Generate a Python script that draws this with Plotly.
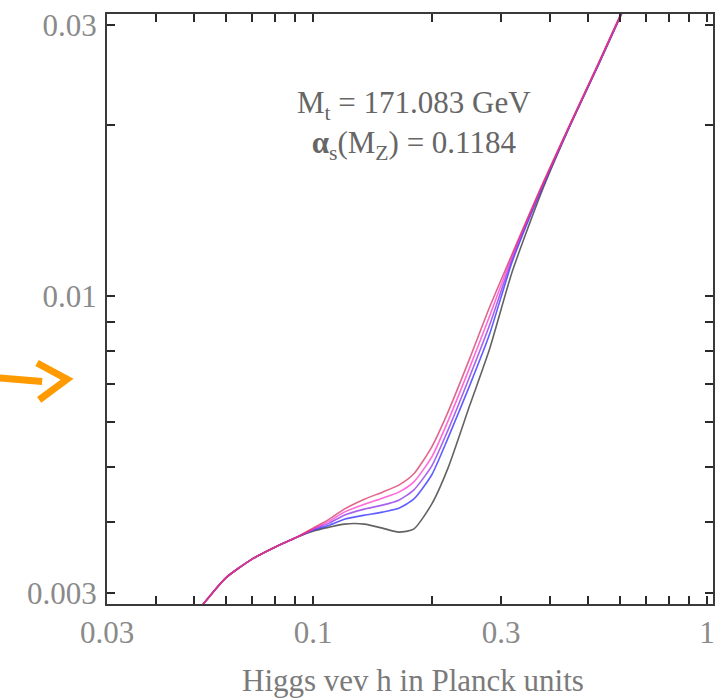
import plotly.graph_objects as go

# Higgs vev h in Planck units (shared by all curves)
h_vals = [0.05, 0.06, 0.07, 0.08, 0.09, 0.10, 0.11, 0.12, 0.135, 0.15, 0.165, 0.18,
          0.20, 0.22, 0.25, 0.28, 0.32, 0.38, 0.45, 0.53, 0.62]

curve_black = [0.002745, 0.003189, 0.003443, 0.003614, 0.003750, 0.003857, 0.003920, 0.003969,
               0.003969, 0.003904, 0.003841, 0.003888, 0.004302, 0.004979, 0.006429, 0.008035,
               0.011023, 0.015240, 0.02001, 0.02551, 0.03240]
curve_blue = [0.002745, 0.003189, 0.003443, 0.003614, 0.003750, 0.003873, 0.003952, 0.004049,
              0.004115, 0.004166, 0.004233, 0.004390, 0.004842, 0.005623, 0.006970, 0.008537,
              0.011478, 0.015429, 0.02005, 0.02558, 0.03252]
curve_violet = [0.002745, 0.003189, 0.003443, 0.003614, 0.003750, 0.003888, 0.003984, 0.004115,
                0.004217, 0.004286, 0.004373, 0.004554, 0.005020, 0.005809, 0.007228, 0.008856,
                0.011618, 0.015490, 0.02007, 0.02560, 0.03253]
curve_pink = [0.002745, 0.003189, 0.003443, 0.003614, 0.003750, 0.003888, 0.004016, 0.004166,
              0.004302, 0.004408, 0.004517, 0.004704, 0.005206, 0.006025, 0.007499, 0.009185,
              0.011762, 0.015554, 0.02009, 0.02562, 0.03253]
curve_red = [0.002745, 0.003189, 0.003443, 0.003614, 0.003750, 0.003904, 0.004049, 0.004217,
             0.004390, 0.004517, 0.004648, 0.004861, 0.005423, 0.006249, 0.007777, 0.009526,
             0.011857, 0.015618, 0.02017, 0.02572, 0.03267]

series = [curve_black, curve_blue, curve_violet, curve_pink, curve_red]
colors = ["#303030", "#2a2aff", "#8a30e8", "#ff38d0", "#d83468"]

x_tickvals = [0.03, 0.04, 0.05, 0.06, 0.07, 0.08, 0.09, 0.1, 0.2, 0.3, 0.4, 0.5, 0.6, 0.7, 0.8, 0.9, 1.0]
x_ticktext = ["0.03", "", "", "", "", "", "", "0.1", "", "0.3", "", "", "", "", "", "", "1"]
y_tickvals = [0.003, 0.004, 0.005, 0.006, 0.007, 0.008, 0.009, 0.01, 0.02, 0.03]
y_ticktext = ["0.003", "", "", "", "", "", "", "0.01", "", "0.03"]

FONT = "Liberation Serif"

fig = go.Figure()
for ys, c in zip(series, colors):
    fig.add_trace(go.Scatter(x=h_vals, y=ys, mode="lines",
                             line=dict(color=c, width=1.6, shape="spline", smoothing=0.6),
                             opacity=0.75, showlegend=False, hoverinfo="skip"))

axis_common = dict(type="log", showgrid=False, zeroline=False, showline=True, linecolor="#3a3a3a", linewidth=2,
                   mirror="ticks", ticks="inside", ticklen=8, tickwidth=2, tickcolor="#2a2a2a",
                   automargin=False,
                   tickfont=dict(family=FONT, size=31, color="#8a8a8a"))

fig.update_xaxes(range=[-1.5229, 0.015], tickvals=x_tickvals, ticktext=x_ticktext, ticklabelstandoff=0,
                 **axis_common)
fig.update_yaxes(range=[-2.542, -1.5035], tickvals=y_tickvals, ticktext=y_ticktext, ticklabelstandoff=2,
                 **axis_common)

fig.add_annotation(x=0.507, y=0.883, xref="paper", yref="paper", showarrow=False,
                   text="M<sub>t</sub> = 171.083 GeV<br><b>α</b><sub>s</sub>(M<sub>Z</sub>) = 0.1184",
                   font=dict(family=FONT, size=31, color="#666666"), align="center")

# x-axis title placed as text below the tick labels
fig.add_annotation(x=0.505, y=-0.129, xref="paper", yref="paper", showarrow=False, yanchor="middle",
                   text="Higgs vev h in Planck units",
                   font=dict(family=FONT, size=31, color="#7a7a7a"))

# hand-drawn orange arrow on the left (decoration)
fig.add_shape(type="path", xref="paper", yref="paper",
              path="M -0.177,0.383 L -0.107,0.377", line=dict(color="#ff9a00", width=7))
fig.add_shape(type="path", xref="paper", yref="paper",
              path="M -0.1155,0.4085 L -0.066,0.381 L -0.112,0.346", line=dict(color="#ff9a00", width=7))

fig.update_layout(width=724, height=700, margin=dict(l=107, r=11, t=14, b=96),
                  paper_bgcolor="white", plot_bgcolor="white")

fig.write_html("out.html", config={"displayModeBar": False},
               post_script="document.body.style.margin='0px';")
